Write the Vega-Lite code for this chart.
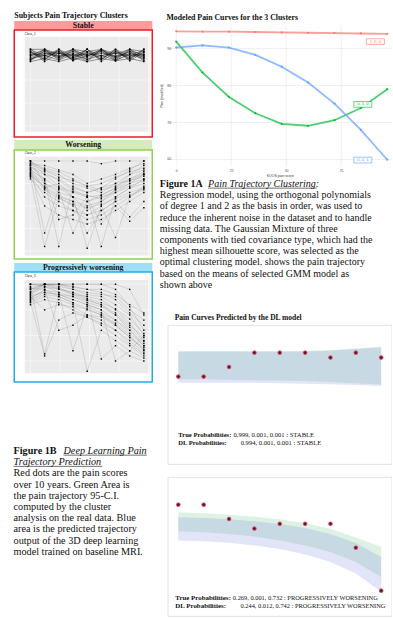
{
"$schema":"https://vega.github.io/schema/vega-lite/v6.json",
"background":"white",
"padding":{"left":13.25,"top":0,"right":0,"bottom":0},
"config":{"view":{"stroke":null},"font":"Liberation Serif","text":{"font":"Liberation Serif","color":"#111"},"axis":{"labelFont":"Liberation Sans","titleFont":"Liberation Sans","titleFontWeight":"normal","labelColor":"#4d4d4d","titleColor":"#333","domain":false}},
"datasets":{
"one":[{"p":1}],
"g5":[{"g":0},{"g":25},{"g":50},{"g":75},{"g":100}],
"g4s":[{"g":0},{"g":30},{"g":60},{"g":90}],
"g4p":[{"g":25},{"g":50},{"g":75},{"g":100}],
"st":[
{"s":1,"m":0,"v":100},{"s":1,"m":12,"v":86},{"s":1,"m":24,"v":100},{"s":1,"m":36,"v":86},{"s":1,"m":48,"v":100},{"s":1,"m":60,"v":86},{"s":1,"m":72,"v":100},{"s":1,"m":84,"v":86},{"s":1,"m":96,"v":100},
{"s":2,"m":0,"v":86},{"s":2,"m":12,"v":100},{"s":2,"m":24,"v":86},{"s":2,"m":36,"v":100},{"s":2,"m":48,"v":86},{"s":2,"m":60,"v":100},{"s":2,"m":72,"v":86},{"s":2,"m":84,"v":100},{"s":2,"m":96,"v":86},
{"s":3,"m":0,"v":97},{"s":3,"m":12,"v":89},{"s":3,"m":24,"v":97},{"s":3,"m":36,"v":89},{"s":3,"m":48,"v":97},{"s":3,"m":60,"v":89},{"s":3,"m":72,"v":97},{"s":3,"m":84,"v":89},{"s":3,"m":96,"v":97},
{"s":4,"m":0,"v":89},{"s":4,"m":12,"v":97},{"s":4,"m":24,"v":89},{"s":4,"m":36,"v":97},{"s":4,"m":48,"v":89},{"s":4,"m":60,"v":97},{"s":4,"m":72,"v":89},{"s":4,"m":84,"v":97},{"s":4,"m":96,"v":89},
{"s":5,"m":0,"v":94},{"s":5,"m":12,"v":92},{"s":5,"m":24,"v":95},{"s":5,"m":36,"v":91},{"s":5,"m":48,"v":94},{"s":5,"m":60,"v":92},{"s":5,"m":72,"v":95},{"s":5,"m":84,"v":91},{"s":5,"m":96,"v":94},
{"s":6,"m":0,"v":92},{"s":6,"m":12,"v":95},{"s":6,"m":24,"v":91},{"s":6,"m":36,"v":94},{"s":6,"m":48,"v":92},{"s":6,"m":60,"v":95},{"s":6,"m":72,"v":91},{"s":6,"m":84,"v":94},{"s":6,"m":96,"v":92},
{"s":7,"m":0,"v":100},{"s":7,"m":12,"v":100},{"s":7,"m":24,"v":94},{"s":7,"m":36,"v":100},{"s":7,"m":48,"v":97},{"s":7,"m":60,"v":100},{"s":7,"m":72,"v":94},{"s":7,"m":84,"v":100},{"s":7,"m":96,"v":97},
{"s":8,"m":0,"v":84},{"s":8,"m":12,"v":88},{"s":8,"m":24,"v":84},{"s":8,"m":36,"v":89},{"s":8,"m":48,"v":84},{"s":8,"m":60,"v":88},{"s":8,"m":72,"v":85},{"s":8,"m":84,"v":88},{"s":8,"m":96,"v":84},
{"s":9,"m":0,"v":98},{"s":9,"m":12,"v":84},{"s":9,"m":24,"v":95},{"s":9,"m":36,"v":88},{"s":9,"m":48,"v":100},{"s":9,"m":60,"v":84},{"s":9,"m":72,"v":97},{"s":9,"m":84,"v":88},{"s":9,"m":96,"v":99},
{"s":10,"m":0,"v":85},{"s":10,"m":12,"v":98},{"s":10,"m":24,"v":88},{"s":10,"m":36,"v":95},{"s":10,"m":48,"v":84},{"s":10,"m":60,"v":100},{"s":10,"m":72,"v":88},{"s":10,"m":84,"v":97},{"s":10,"m":96,"v":85},
{"s":11,"m":0,"v":91},{"s":11,"m":12,"v":100},{"s":11,"m":24,"v":91},{"s":11,"m":36,"v":100},{"s":11,"m":48,"v":91},{"s":11,"m":60,"v":100},{"s":11,"m":72,"v":91},{"s":11,"m":84,"v":100},{"s":11,"m":96,"v":91},
{"s":12,"m":0,"v":100},{"s":12,"m":12,"v":91},{"s":12,"m":24,"v":100},{"s":12,"m":36,"v":91},{"s":12,"m":48,"v":100},{"s":12,"m":60,"v":91},{"s":12,"m":72,"v":100},{"s":12,"m":84,"v":91},{"s":12,"m":96,"v":100},
{"s":13,"m":0,"v":88},{"s":13,"m":12,"v":92},{"s":13,"m":24,"v":86},{"s":13,"m":36,"v":93},{"s":13,"m":48,"v":87},{"s":13,"m":60,"v":92},{"s":13,"m":72,"v":86},{"s":13,"m":84,"v":93},{"s":13,"m":96,"v":88},
{"s":14,"m":0,"v":96},{"s":14,"m":12,"v":87},{"s":14,"m":24,"v":99},{"s":14,"m":36,"v":85},{"s":14,"m":48,"v":96},{"s":14,"m":60,"v":87},{"s":14,"m":72,"v":99},{"s":14,"m":84,"v":85},{"s":14,"m":96,"v":96},
{"s":15,"m":0,"v":93},{"s":15,"m":12,"v":99},{"s":15,"m":24,"v":90},{"s":15,"m":36,"v":98},{"s":15,"m":48,"v":93},{"s":15,"m":60,"v":99},{"s":15,"m":72,"v":90},{"s":15,"m":84,"v":98},{"s":15,"m":96,"v":93},
{"s":16,"m":0,"v":87},{"s":16,"m":12,"v":94},{"s":16,"m":24,"v":97},{"s":16,"m":36,"v":86},{"s":16,"m":48,"v":91},{"s":16,"m":60,"v":98},{"s":16,"m":72,"v":85},{"s":16,"m":84,"v":95},{"s":16,"m":96,"v":90}
],
"wo":[
{"s":1,"m":0,"v":100},{"s":1,"m":12,"v":100},{"s":1,"m":24,"v":100},{"s":1,"m":36,"v":100},{"s":1,"m":48,"v":100},{"s":1,"m":60,"v":97},{"s":1,"m":72,"v":100},{"s":1,"m":84,"v":100},{"s":1,"m":96,"v":100},
{"s":2,"m":0,"v":95},{"s":2,"m":12,"v":80},{"s":2,"m":24,"v":70},{"s":2,"m":36,"v":65},{"s":2,"m":48,"v":60},{"s":2,"m":60,"v":62},{"s":2,"m":72,"v":70},{"s":2,"m":84,"v":80},{"s":2,"m":96,"v":88},
{"s":3,"m":0,"v":90},{"s":3,"m":12,"v":70},{"s":3,"m":24,"v":60},{"s":3,"m":36,"v":55},{"s":3,"m":48,"v":50},{"s":3,"m":60,"v":55},{"s":3,"m":72,"v":65},{"s":3,"m":84,"v":75},{"s":3,"m":96,"v":85},
{"s":4,"m":0,"v":85},{"s":4,"m":12,"v":60},{"s":4,"m":24,"v":50},{"s":4,"m":36,"v":45},{"s":4,"m":48,"v":40},{"s":4,"m":60,"v":50},{"s":4,"m":72,"v":60},{"s":4,"m":84,"v":70},{"s":4,"m":96,"v":80},
{"s":5,"m":0,"v":100},{"s":5,"m":12,"v":90},{"s":5,"m":24,"v":85},{"s":5,"m":36,"v":75},{"s":5,"m":48,"v":70},{"s":5,"m":60,"v":65},{"s":5,"m":72,"v":75},{"s":5,"m":84,"v":85},{"s":5,"m":96,"v":95},
{"s":6,"m":0,"v":88},{"s":6,"m":12,"v":75},{"s":6,"m":24,"v":65},{"s":6,"m":36,"v":60},{"s":6,"m":48,"v":55},{"s":6,"m":60,"v":60},{"s":6,"m":72,"v":65},{"s":6,"m":84,"v":72},{"s":6,"m":96,"v":78},
{"s":7,"m":0,"v":92},{"s":7,"m":12,"v":85},{"s":7,"m":24,"v":80},{"s":7,"m":36,"v":70},{"s":7,"m":48,"v":65},{"s":7,"m":60,"v":70},{"s":7,"m":72,"v":80},{"s":7,"m":84,"v":90},{"s":7,"m":96,"v":100},
{"s":8,"m":0,"v":83},{"s":8,"m":12,"v":50},{"s":8,"m":24,"v":40},{"s":8,"m":36,"v":35},{"s":8,"m":48,"v":30},{"s":8,"m":60,"v":35},{"s":8,"m":72,"v":45},{"s":8,"m":84,"v":55},{"s":8,"m":96,"v":65},
{"s":9,"m":0,"v":97},{"s":9,"m":12,"v":95},{"s":9,"m":24,"v":90},{"s":9,"m":36,"v":85},{"s":9,"m":48,"v":75},{"s":9,"m":60,"v":80},{"s":9,"m":72,"v":85},{"s":9,"m":84,"v":92},{"s":9,"m":96,"v":97},
{"s":10,"m":0,"v":80},{"s":10,"m":12,"v":65},{"s":10,"m":24,"v":55},{"s":10,"m":36,"v":45},{"s":10,"m":48,"v":35},{"s":10,"m":60,"v":40},{"s":10,"m":72,"v":50},{"s":10,"m":84,"v":60},{"s":10,"m":96,"v":70},
{"s":11,"m":0,"v":95},{"s":11,"m":12,"v":20},{"s":11,"m":24,"v":70},{"s":11,"m":36,"v":60},{"s":11,"m":48,"v":45},{"s":11,"m":60,"v":55},{"s":11,"m":72,"v":68},{"s":11,"m":84,"v":75},{"s":11,"m":96,"v":80},
{"s":12,"m":0,"v":90},{"s":12,"m":12,"v":80},{"s":12,"m":24,"v":5},{"s":12,"m":36,"v":72},{"s":12,"m":48,"v":65},{"s":12,"m":60,"v":70},{"s":12,"m":72,"v":75},{"s":12,"m":84,"v":78},{"s":12,"m":96,"v":83},
{"s":13,"m":0,"v":100},{"s":13,"m":12,"v":75},{"s":13,"m":24,"v":68},{"s":13,"m":36,"v":20},{"s":13,"m":48,"v":55},{"s":13,"m":60,"v":62},{"s":13,"m":72,"v":70},{"s":13,"m":84,"v":85},{"s":13,"m":96,"v":90},
{"s":14,"m":0,"v":87},{"s":14,"m":12,"v":70},{"s":14,"m":24,"v":75},{"s":14,"m":36,"v":60},{"s":14,"m":48,"v":3},{"s":14,"m":60,"v":50},{"s":14,"m":72,"v":15},{"s":14,"m":84,"v":60},{"s":14,"m":96,"v":72},
{"s":15,"m":0,"v":93},{"s":15,"m":12,"v":88},{"s":15,"m":24,"v":78},{"s":15,"m":36,"v":68},{"s":15,"m":48,"v":60},{"s":15,"m":60,"v":5},{"s":15,"m":72,"v":60},{"s":15,"m":84,"v":70},{"s":15,"m":96,"v":75},
{"s":16,"m":0,"v":82},{"s":16,"m":12,"v":5},{"s":16,"m":24,"v":60},{"s":16,"m":36,"v":50},{"s":16,"m":48,"v":40},{"s":16,"m":60,"v":45},{"s":16,"m":72,"v":55},{"s":16,"m":84,"v":38},{"s":16,"m":96,"v":55},
{"s":17,"m":0,"v":98},{"s":17,"m":12,"v":92},{"s":17,"m":24,"v":88},{"s":17,"m":36,"v":80},{"s":17,"m":48,"v":72},{"s":17,"m":60,"v":75},{"s":17,"m":72,"v":82},{"s":17,"m":84,"v":88},{"s":17,"m":96,"v":92},
{"s":18,"m":0,"v":86},{"s":18,"m":12,"v":68},{"s":18,"m":24,"v":58},{"s":18,"m":36,"v":52},{"s":18,"m":48,"v":48},{"s":18,"m":60,"v":52},{"s":18,"m":72,"v":58},{"s":18,"m":84,"v":65},{"s":18,"m":96,"v":70},
{"s":19,"m":0,"v":100},{"s":19,"m":12,"v":85},{"s":19,"m":24,"v":72},{"s":19,"m":36,"v":66},{"s":19,"m":48,"v":62},{"s":19,"m":60,"v":58},{"s":19,"m":72,"v":68},{"s":19,"m":84,"v":78},{"s":19,"m":96,"v":85},
{"s":20,"m":0,"v":84},{"s":20,"m":12,"v":72},{"s":20,"m":24,"v":62},{"s":20,"m":36,"v":55},{"s":20,"m":48,"v":20},{"s":20,"m":60,"v":45},{"s":20,"m":72,"v":55},{"s":20,"m":84,"v":62},{"s":20,"m":96,"v":68},
{"s":21,"m":0,"v":96},{"s":21,"m":12,"v":90},{"s":21,"m":24,"v":82},{"s":21,"m":36,"v":78},{"s":21,"m":48,"v":72},{"s":21,"m":60,"v":68},{"s":21,"m":72,"v":72},{"s":21,"m":84,"v":80},{"s":21,"m":96,"v":86},
{"s":22,"m":0,"v":91},{"s":22,"m":12,"v":78},{"s":22,"m":24,"v":35},{"s":22,"m":36,"v":40},{"s":22,"m":48,"v":60},{"s":22,"m":60,"v":30},{"s":22,"m":72,"v":50},{"s":22,"m":84,"v":33},{"s":22,"m":96,"v":48}
],
"pw":[
{"s":1,"m":0,"v":100},{"s":1,"m":12,"v":100},{"s":1,"m":24,"v":100},{"s":1,"m":36,"v":100},{"s":1,"m":48,"v":100},{"s":1,"m":60,"v":100},{"s":1,"m":72,"v":95},{"s":1,"m":84,"v":78},{"s":1,"m":96,"v":55},
{"s":2,"m":0,"v":95},{"s":2,"m":12,"v":100},{"s":2,"m":24,"v":98},{"s":2,"m":36,"v":95},{"s":2,"m":48,"v":90},{"s":2,"m":60,"v":88},{"s":2,"m":72,"v":80},{"s":2,"m":84,"v":70},{"s":2,"m":96,"v":50},
{"s":3,"m":0,"v":90},{"s":3,"m":12,"v":97},{"s":3,"m":24,"v":95},{"s":3,"m":36,"v":92},{"s":3,"m":48,"v":88},{"s":3,"m":60,"v":85},{"s":3,"m":72,"v":75},{"s":3,"m":84,"v":62},{"s":3,"m":96,"v":45},
{"s":4,"m":0,"v":85},{"s":4,"m":12,"v":92},{"s":4,"m":24,"v":90},{"s":4,"m":36,"v":88},{"s":4,"m":48,"v":82},{"s":4,"m":60,"v":78},{"s":4,"m":72,"v":70},{"s":4,"m":84,"v":55},{"s":4,"m":96,"v":40},
{"s":5,"m":0,"v":100},{"s":5,"m":12,"v":100},{"s":5,"m":24,"v":97},{"s":5,"m":36,"v":90},{"s":5,"m":48,"v":85},{"s":5,"m":60,"v":80},{"s":5,"m":72,"v":72},{"s":5,"m":84,"v":60},{"s":5,"m":96,"v":48},
{"s":6,"m":0,"v":82},{"s":6,"m":12,"v":88},{"s":6,"m":24,"v":85},{"s":6,"m":36,"v":80},{"s":6,"m":48,"v":75},{"s":6,"m":60,"v":70},{"s":6,"m":72,"v":62},{"s":6,"m":84,"v":50},{"s":6,"m":96,"v":35},
{"s":7,"m":0,"v":97},{"s":7,"m":12,"v":100},{"s":7,"m":24,"v":100},{"s":7,"m":36,"v":97},{"s":7,"m":48,"v":95},{"s":7,"m":60,"v":92},{"s":7,"m":72,"v":85},{"s":7,"m":84,"v":72},{"s":7,"m":96,"v":60},
{"s":8,"m":0,"v":88},{"s":8,"m":12,"v":75},{"s":8,"m":24,"v":80},{"s":8,"m":36,"v":78},{"s":8,"m":48,"v":70},{"s":8,"m":60,"v":65},{"s":8,"m":72,"v":55},{"s":8,"m":84,"v":45},{"s":8,"m":96,"v":33},
{"s":9,"m":0,"v":93},{"s":9,"m":12,"v":100},{"s":9,"m":24,"v":100},{"s":9,"m":36,"v":95},{"s":9,"m":48,"v":92},{"s":9,"m":60,"v":90},{"s":9,"m":72,"v":88},{"s":9,"m":84,"v":75},{"s":9,"m":96,"v":65},
{"s":10,"m":0,"v":80},{"s":10,"m":12,"v":85},{"s":10,"m":24,"v":82},{"s":10,"m":36,"v":75},{"s":10,"m":48,"v":68},{"s":10,"m":60,"v":60},{"s":10,"m":72,"v":50},{"s":10,"m":84,"v":40},{"s":10,"m":96,"v":30},
{"s":11,"m":0,"v":98},{"s":11,"m":12,"v":32},{"s":11,"m":24,"v":90},{"s":11,"m":36,"v":85},{"s":11,"m":48,"v":80},{"s":11,"m":60,"v":75},{"s":11,"m":72,"v":65},{"s":11,"m":84,"v":55},{"s":11,"m":96,"v":42},
{"s":12,"m":0,"v":86},{"s":12,"m":12,"v":95},{"s":12,"m":24,"v":55},{"s":12,"m":36,"v":60},{"s":12,"m":48,"v":70},{"s":12,"m":60,"v":68},{"s":12,"m":72,"v":60},{"s":12,"m":84,"v":48},{"s":12,"m":96,"v":38},
{"s":13,"m":0,"v":91},{"s":13,"m":12,"v":100},{"s":13,"m":24,"v":100},{"s":13,"m":36,"v":100},{"s":13,"m":48,"v":100},{"s":13,"m":60,"v":100},{"s":13,"m":72,"v":100},{"s":13,"m":84,"v":95},{"s":13,"m":96,"v":70},
{"s":14,"m":0,"v":100},{"s":14,"m":12,"v":98},{"s":14,"m":24,"v":92},{"s":14,"m":36,"v":35},{"s":14,"m":48,"v":78},{"s":14,"m":60,"v":72},{"s":14,"m":72,"v":65},{"s":14,"m":84,"v":52},{"s":14,"m":96,"v":40},
{"s":15,"m":0,"v":84},{"s":15,"m":12,"v":90},{"s":15,"m":24,"v":88},{"s":15,"m":36,"v":82},{"s":15,"m":48,"v":15},{"s":15,"m":60,"v":55},{"s":15,"m":72,"v":45},{"s":15,"m":84,"v":35},{"s":15,"m":96,"v":28},
{"s":16,"m":0,"v":95},{"s":16,"m":12,"v":100},{"s":16,"m":24,"v":95},{"s":16,"m":36,"v":90},{"s":16,"m":48,"v":88},{"s":16,"m":60,"v":27},{"s":16,"m":72,"v":40},{"s":16,"m":84,"v":30},{"s":16,"m":96,"v":25},
{"s":17,"m":0,"v":89},{"s":17,"m":12,"v":92},{"s":17,"m":24,"v":90},{"s":17,"m":36,"v":85},{"s":17,"m":48,"v":80},{"s":17,"m":60,"v":75},{"s":17,"m":72,"v":25},{"s":17,"m":84,"v":35},{"s":17,"m":96,"v":50},
{"s":18,"m":0,"v":100},{"s":18,"m":12,"v":100},{"s":18,"m":24,"v":100},{"s":18,"m":36,"v":98},{"s":18,"m":48,"v":95},{"s":18,"m":60,"v":95},{"s":18,"m":72,"v":90},{"s":18,"m":84,"v":80},{"s":18,"m":96,"v":72},
{"s":19,"m":0,"v":83},{"s":19,"m":12,"v":30},{"s":19,"m":24,"v":65},{"s":19,"m":36,"v":72},{"s":19,"m":48,"v":68},{"s":19,"m":60,"v":62},{"s":19,"m":72,"v":55},{"s":19,"m":84,"v":42},{"s":19,"m":96,"v":32},
{"s":20,"m":0,"v":96},{"s":20,"m":12,"v":95},{"s":20,"m":24,"v":88},{"s":20,"m":36,"v":82},{"s":20,"m":48,"v":76},{"s":20,"m":60,"v":70},{"s":20,"m":72,"v":60},{"s":20,"m":84,"v":48},{"s":20,"m":96,"v":36},
{"s":21,"m":0,"v":87},{"s":21,"m":12,"v":94},{"s":21,"m":24,"v":92},{"s":21,"m":36,"v":88},{"s":21,"m":48,"v":84},{"s":21,"m":60,"v":80},{"s":21,"m":72,"v":70},{"s":21,"m":84,"v":58},{"s":21,"m":96,"v":44},
{"s":22,"m":0,"v":92},{"s":22,"m":12,"v":98},{"s":22,"m":24,"v":96},{"s":22,"m":36,"v":92},{"s":22,"m":48,"v":86},{"s":22,"m":60,"v":82},{"s":22,"m":72,"v":76},{"s":22,"m":84,"v":66},{"s":22,"m":96,"v":52}
],
"mod":[
{"c":"1","m":0,"v":94.6},{"c":"1","m":12,"v":94.5},{"c":"1","m":24,"v":94.5},{"c":"1","m":36,"v":94.4},{"c":"1","m":48,"v":94.3},{"c":"1","m":60,"v":94.2},{"c":"1","m":72,"v":94.1},{"c":"1","m":84,"v":94.0},{"c":"1","m":96,"v":93.9},
{"c":"2","m":0,"v":91.8},{"c":"2","m":12,"v":83.4},{"c":"2","m":24,"v":76.8},{"c":"2","m":36,"v":72.4},{"c":"2","m":48,"v":69.5},{"c":"2","m":60,"v":69.0},{"c":"2","m":72,"v":70.5},{"c":"2","m":84,"v":73.8},{"c":"2","m":96,"v":78.9},
{"c":"3","m":0,"v":90.2},{"c":"3","m":12,"v":90.8},{"c":"3","m":24,"v":90.2},{"c":"3","m":36,"v":88.2},{"c":"3","m":48,"v":85.0},{"c":"3","m":60,"v":80.7},{"c":"3","m":72,"v":75.0},{"c":"3","m":84,"v":67.9},{"c":"3","m":96,"v":59.8}
],
"lab":[
{"c":"1","m":90.6,"v":91.8,"t":"1, 0, 0"},
{"c":"2","m":84.9,"v":74.8,"t":"0, 1, 0"},
{"c":"3","m":84.9,"v":59.7,"t":"0, 0, 1"}
],
"dl1":[
{"m":0,"v":86.1,"gl":84.5,"gh":101,"bl":82.5,"bh":100.5},
{"m":12,"v":86.1,"gl":84.5,"gh":101,"bl":82.5,"bh":100.5},
{"m":24,"v":91.7,"gl":84.3,"gh":101,"bl":82.5,"bh":100.5},
{"m":36,"v":100,"gl":84,"gh":101,"bl":82.5,"bh":100.5},
{"m":48,"v":100,"gl":83.8,"gh":101,"bl":82.3,"bh":100.5},
{"m":60,"v":100,"gl":83.5,"gh":101,"bl":82,"bh":100.7},
{"m":72,"v":97.2,"gl":83,"gh":101.5,"bl":81.7,"bh":101.2},
{"m":84,"v":100,"gl":82.2,"gh":102.5,"bl":81.2,"bh":102.2},
{"m":96,"v":97.2,"gl":81.5,"gh":103.5,"bl":80.6,"bh":103.2}
],
"dl2":[
{"m":0,"v":100,"gl":84.6,"gh":95.6,"bl":79.2,"bh":92.7},
{"m":12,"v":100,"gl":84,"gh":95,"bl":78.8,"bh":92.3},
{"m":24,"v":91.7,"gl":83,"gh":94.2,"bl":77.9,"bh":91.5},
{"m":36,"v":86.1,"gl":81.5,"gh":93,"bl":76.3,"bh":90.4},
{"m":48,"v":88.9,"gl":79.2,"gh":91.5,"bl":74.2,"bh":88.8},
{"m":60,"v":88.9,"gl":76.3,"gh":89.2,"bl":71.1,"bh":86.5},
{"m":72,"v":88.9,"gl":72.5,"gh":86,"bl":66.7,"bh":83},
{"m":84,"v":75,"gl":66.7,"gh":81,"bl":60,"bh":77.7},
{"m":96,"v":50,"gl":58,"gh":75.4,"bl":49.4,"bh":69.6}
]
},
"spacing":6.5,
"hconcat":[
{"spacing":0,"bounds":"flush","vconcat":[
 {"width":138,"height":21,"data":{"values":[{"t":"Subjects Pain Trajectory Clusters"}]},"mark":{"type":"text","align":"left","baseline":"middle","fontWeight":"bold","fontSize":7.9},"encoding":{"x":{"datum":0,"type":"quantitative","scale":{"domain":[0,1],"nice":false,"zero":false},"axis":null},"y":{"datum":0.25,"type":"quantitative","scale":{"domain":[0,1],"nice":false,"zero":false},"axis":null},"text":{"field":"t"}}},
 {"width":138,"height":9,"view":{"fill":"#ff9b9b","stroke":null},"data":{"values":[{"t":"Stable"}]},"mark":{"type":"text","fontWeight":"bold","fontSize":7.8,"baseline":"middle"},"encoding":{"text":{"field":"t"}}},
 {"width":138,"height":107,"view":{"stroke":"#ee1c25","strokeWidth":1.5,"fill":"white"},"data":{"name":"st"},
  "layer":[
   {"data":{"name":"one"},"mark":{"type":"rect","fill":"#ebebeb"},"encoding":{"x":{"datum":-4.8,"type":"quantitative","axis":null},"x2":{"datum":100.8},"y":{"datum":-7.4,"type":"quantitative","axis":null},"y2":{"datum":116.5}}},
   {"data":{"name":"g5"},"mark":{"type":"rule","stroke":"white","strokeWidth":0.5},"encoding":{"x":{"field":"g","type":"quantitative","axis":null},"y":{"datum":-7.4,"type":"quantitative","axis":null},"y2":{"datum":116.5}}},
   {"data":{"name":"g4s"},"mark":{"type":"rule","stroke":"white","strokeWidth":0.5},"encoding":{"y":{"field":"g","type":"quantitative","axis":null},"x":{"datum":-4.8,"type":"quantitative","axis":null},"x2":{"datum":100.8}}},
   {"mark":{"type":"line","stroke":"#111","strokeWidth":0.5,"opacity":0.85},"encoding":{
     "x":{"field":"m","type":"quantitative","scale":{"domain":[-13.7,103.1],"nice":false,"zero":false},"axis":{"values":[0,25,50,75,100],"offset":-5.3,"labelFontSize":3,"labelPadding":0.5,"tickSize":1.2,"tickWidth":0.3,"tickColor":"#333","title":"months","titleFontSize":3,"titlePadding":0,"grid":false}},
     "y":{"field":"v","type":"quantitative","scale":{"domain":[-14.3,125.2],"nice":false,"zero":false},"axis":{"values":[0,30,60,90],"offset":-10.5,"labelFontSize":3,"labelPadding":0.5,"tickSize":1.2,"tickWidth":0.3,"tickColor":"#333","title":"score","titleFontSize":3,"titlePadding":0.5,"grid":false}},
     "detail":{"field":"s","type":"nominal"}}},
   {"mark":{"type":"point","shape":"square","filled":true,"color":"black","size":2,"opacity":1},"encoding":{"x":{"field":"m","type":"quantitative","axis":null},"y":{"field":"v","type":"quantitative","axis":null}}},
   {"data":{"name":"one"},"mark":{"type":"text","fontSize":3,"align":"left","baseline":"middle","font":"Liberation Sans"},"encoding":{"x":{"datum":-4.8,"type":"quantitative","axis":null},"y":{"datum":120.9,"type":"quantitative","axis":null},"text":{"value":"Class_1"}}}
  ]},
 {"width":138,"height":3,"data":{"name":"one"},"mark":{"type":"text","text":""}},
 {"width":138,"height":10,"view":{"fill":"#d5ebbd","stroke":null},"data":{"values":[{"t":"Worsening"}]},"mark":{"type":"text","fontWeight":"bold","fontSize":7.8,"baseline":"middle"},"encoding":{"text":{"field":"t"}}},
 {"width":138,"height":109,"view":{"stroke":"#8fd14f","strokeWidth":1.5,"fill":"white"},"data":{"name":"wo"},
  "layer":[
   {"data":{"name":"one"},"mark":{"type":"rect","fill":"#ebebeb"},"encoding":{"x":{"datum":-4.8,"type":"quantitative","axis":null},"x2":{"datum":100.8},"y":{"datum":-5,"type":"quantitative","axis":null},"y2":{"datum":105}}},
   {"data":{"name":"g5"},"mark":{"type":"rule","stroke":"white","strokeWidth":0.5},"encoding":{"x":{"field":"g","type":"quantitative","axis":null},"y":{"datum":-5,"type":"quantitative","axis":null},"y2":{"datum":105}}},
   {"data":{"name":"g5"},"mark":{"type":"rule","stroke":"white","strokeWidth":0.5},"encoding":{"y":{"field":"g","type":"quantitative","axis":null},"x":{"datum":-4.8,"type":"quantitative","axis":null},"x2":{"datum":100.8}}},
   {"mark":{"type":"line","stroke":"#444","strokeWidth":0.4,"opacity":0.4},"encoding":{
     "x":{"field":"m","type":"quantitative","scale":{"domain":[-13.7,103.1],"nice":false,"zero":false},"axis":{"values":[0,25,50,75,100],"offset":-3.5,"labelFontSize":3,"labelPadding":0.5,"tickSize":1.2,"tickWidth":0.3,"tickColor":"#333","title":"months","titleFontSize":3,"titlePadding":0,"grid":false}},
     "y":{"field":"v","type":"quantitative","scale":{"domain":[-8.9,112.2],"nice":false,"zero":false},"axis":{"values":[0,25,50,75,100],"offset":-10.5,"labelFontSize":3,"labelPadding":0.5,"tickSize":1.2,"tickWidth":0.3,"tickColor":"#333","title":"score","titleFontSize":3,"titlePadding":0.5,"grid":false}},
     "detail":{"field":"s","type":"nominal"}}},
   {"mark":{"type":"point","shape":"square","filled":true,"color":"black","size":2,"opacity":1},"encoding":{"x":{"field":"m","type":"quantitative","axis":null},"y":{"field":"v","type":"quantitative","axis":null}}},
   {"data":{"name":"one"},"mark":{"type":"text","fontSize":3,"align":"left","baseline":"middle","font":"Liberation Sans"},"encoding":{"x":{"datum":-4.8,"type":"quantitative","axis":null},"y":{"datum":108.9,"type":"quantitative","axis":null},"text":{"value":"Class_2"}}}
  ]},
 {"width":138,"height":4,"data":{"name":"one"},"mark":{"type":"text","text":""}},
 {"width":138,"height":9,"view":{"fill":"#9ddff6","stroke":null},"data":{"values":[{"t":"Progressively worsening"}]},"mark":{"type":"text","fontWeight":"bold","fontSize":7.8,"baseline":"middle"},"encoding":{"text":{"field":"t"}}},
 {"width":138,"height":110,"view":{"stroke":"#20aee8","strokeWidth":1.5,"fill":"white"},"data":{"name":"pw"},
  "layer":[
   {"data":{"name":"one"},"mark":{"type":"rect","fill":"#ebebeb"},"encoding":{"x":{"datum":-4.8,"type":"quantitative","axis":null},"x2":{"datum":100.8},"y":{"datum":13,"type":"quantitative","axis":null},"y2":{"datum":104.2}}},
   {"data":{"name":"g5"},"mark":{"type":"rule","stroke":"white","strokeWidth":0.5},"encoding":{"x":{"field":"g","type":"quantitative","axis":null},"y":{"datum":13,"type":"quantitative","axis":null},"y2":{"datum":104.2}}},
   {"data":{"name":"g4p"},"mark":{"type":"rule","stroke":"white","strokeWidth":0.5},"encoding":{"y":{"field":"g","type":"quantitative","axis":null},"x":{"datum":-4.8,"type":"quantitative","axis":null},"x2":{"datum":100.8}}},
   {"mark":{"type":"line","stroke":"#444","strokeWidth":0.4,"opacity":0.4},"encoding":{
     "x":{"field":"m","type":"quantitative","scale":{"domain":[-13.7,103.1],"nice":false,"zero":false},"axis":{"values":[0,25,50,75,100],"offset":-8.7,"labelFontSize":3,"labelPadding":0.5,"tickSize":1.2,"tickWidth":0.3,"tickColor":"#333","title":"months","titleFontSize":3,"titlePadding":0,"grid":false}},
     "y":{"field":"v","type":"quantitative","scale":{"domain":[4.5,112.0],"nice":false,"zero":false},"axis":{"values":[25,50,75,100],"offset":-10.5,"labelFontSize":3,"labelPadding":0.5,"tickSize":1.2,"tickWidth":0.3,"tickColor":"#333","title":"score","titleFontSize":3,"titlePadding":0.5,"grid":false}},
     "detail":{"field":"s","type":"nominal"}}},
   {"mark":{"type":"point","shape":"square","filled":true,"color":"black","size":2,"opacity":1},"encoding":{"x":{"field":"m","type":"quantitative","axis":null},"y":{"field":"v","type":"quantitative","axis":null}}},
   {"data":{"name":"one"},"mark":{"type":"text","fontSize":3,"align":"left","baseline":"middle","font":"Liberation Sans"},"encoding":{"x":{"datum":-4.8,"type":"quantitative","axis":null},"y":{"datum":108.1,"type":"quantitative","axis":null},"text":{"value":"Class_3"}}}
  ]},
 {"width":138,"height":68.7,"data":{"name":"one"},"mark":{"type":"text","text":""}},
 {"width":138,"height":100.8,
  "layer":[
   {"data":{"values":[{"l":0,"t":"Figure 1B"}]},"mark":{"type":"text","align":"left","baseline":"middle","fontWeight":"bold","fontSize":10.2},"encoding":{"x":{"datum":-0.005,"type":"quantitative","scale":{"domain":[0,1],"nice":false,"zero":false},"axis":null},"y":{"field":"l","type":"quantitative","scale":{"domain":[0,9],"reverse":true,"nice":false,"zero":false},"axis":null},"text":{"field":"t"}}},
   {"data":{"values":[{"l":0,"t":"Deep Learning Pain"}]},"mark":{"type":"text","align":"left","baseline":"middle","fontStyle":"italic","fontSize":10.2},"encoding":{"x":{"datum":0.357,"type":"quantitative","axis":null},"y":{"field":"l","type":"quantitative","axis":null},"text":{"field":"t"}}},
   {"data":{"values":[{"l":1,"t":"Trajectory Prediction"}]},"mark":{"type":"text","align":"left","baseline":"middle","fontStyle":"italic","fontSize":10.2},"encoding":{"x":{"datum":-0.005,"type":"quantitative","axis":null},"y":{"field":"l","type":"quantitative","axis":null},"text":{"field":"t"}}},
   {"data":{"values":[{"l":2,"t":"Red dots are the pain scores"},{"l":3,"t":"over 10 years. Green Area is"},{"l":4,"t":"the pain trajectory 95-C.I."},{"l":5,"t":"computed by the cluster"},{"l":6,"t":"analysis on the real data. Blue"},{"l":7,"t":"area is the predicted trajectory"},{"l":8,"t":"output of the 3D deep learning"},{"l":9,"t":"model trained on baseline MRI."}]},"mark":{"type":"text","align":"left","baseline":"middle","fontSize":10.2},"encoding":{"x":{"datum":-0.005,"type":"quantitative","axis":null},"y":{"field":"l","type":"quantitative","axis":null},"text":{"field":"t"}}},
   {"data":{"values":[{"l":0.37}]},"mark":{"type":"rule","strokeWidth":0.6,"color":"#111"},"encoding":{"x":{"datum":0.357,"type":"quantitative","axis":null},"x2":{"datum":0.96},"y":{"field":"l","type":"quantitative","axis":null}}},
   {"data":{"values":[{"l":1.37}]},"mark":{"type":"rule","strokeWidth":0.6,"color":"#111"},"encoding":{"x":{"datum":-0.005,"type":"quantitative","axis":null},"x2":{"datum":0.638},"y":{"field":"l","type":"quantitative","axis":null}}}
  ]}
]},
{"spacing":0,"bounds":"flush","vconcat":[
 {"width":224,"height":25,"data":{"values":[{"t":"Modeled Pain Curves for the 3 Clusters"}]},"mark":{"type":"text","align":"left","baseline":"middle","fontWeight":"bold","fontSize":7.8},"encoding":{"x":{"datum":-0.006,"type":"quantitative","scale":{"domain":[0,1],"nice":false,"zero":false},"axis":null},"y":{"datum":0.268,"type":"quantitative","scale":{"domain":[0,1],"nice":false,"zero":false},"axis":null},"text":{"field":"t"}}},
 {"width":224,"height":141,"data":{"name":"mod"},
  "encoding":{
   "x":{"field":"m","type":"quantitative","scale":{"domain":[-3.85,98.05],"nice":false,"zero":false},"axis":{"values":[0,25,50,75],"grid":true,"gridColor":"#e5e5e5","gridWidth":0.6,"ticks":false,"labelFontSize":3.5,"labelPadding":2,"title":"KOOS pain score","titleFontSize":3.5,"titlePadding":1.5}},
   "y":{"field":"v","type":"quantitative","scale":{"domain":[58.1,96.3],"nice":false,"zero":false},"axis":{"values":[60,70,80,90],"grid":true,"gridColor":"#e5e5e5","gridWidth":0.6,"ticks":false,"labelFontSize":3.5,"labelPadding":-3,"title":"Pain (modified)","titleFontSize":3.5,"titlePadding":3}},
   "color":{"field":"c","type":"nominal","scale":{"domain":["1","2","3"],"range":["#F8766D","#00BA38","#619CFF"]},"legend":null}},
  "layer":[
   {"mark":{"type":"line","strokeWidth":1.8,"opacity":0.7}},
   {"mark":{"type":"point","filled":true,"size":5,"opacity":0.9}},
   {"data":{"name":"lab"},"mark":{"type":"point","shape":"M-1,-0.32L1,-0.32L1,0.32L-1,0.32Z","size":324,"filled":true,"strokeWidth":0.6,"opacity":1},"encoding":{"color":{"value":"white"},"stroke":{"field":"c","type":"nominal","scale":{"domain":["1","2","3"],"range":["#F8766D","#00BA38","#619CFF"]},"legend":null}}},
   {"data":{"name":"lab"},"mark":{"type":"text","fontSize":4,"font":"Liberation Sans","baseline":"middle"},"encoding":{"text":{"field":"t"}}}
  ]},
 {"width":224,"height":17.3,"data":{"name":"one"},"mark":{"type":"text","text":""}},
 {"width":224,"height":100.8,
  "layer":[
   {"data":{"values":[{"l":0,"t":"Figure 1A"}]},"mark":{"type":"text","align":"left","baseline":"middle","fontWeight":"bold","fontSize":10},"encoding":{"x":{"datum":-0.0356,"type":"quantitative","scale":{"domain":[0,1],"nice":false,"zero":false},"axis":null},"y":{"field":"l","type":"quantitative","scale":{"domain":[0,9],"reverse":true,"nice":false,"zero":false},"axis":null},"text":{"field":"t"}}},
   {"data":{"values":[{"l":0,"t":"Pain Trajectory Clustering:"}]},"mark":{"type":"text","align":"left","baseline":"middle","fontStyle":"italic","fontSize":10},"encoding":{"x":{"datum":0.18,"type":"quantitative","axis":null},"y":{"field":"l","type":"quantitative","axis":null},"text":{"field":"t"}}},
   {"data":{"values":[{"l":1,"t":"Regression model, using the orthogonal polynomials"},{"l":2,"t":"of degree 1 and 2 as the basis in order, was used to"},{"l":3,"t":"reduce the inherent noise in the dataset and to handle"},{"l":4,"t":"missing data. The Gaussian Mixture of three"},{"l":5,"t":"components with tied covariance type, which had the"},{"l":6,"t":"highest mean silhouette score, was selected as the"},{"l":7,"t":"optimal clustering model. shows the pain trajectory"},{"l":8,"t":"based on the means of selected GMM model as"},{"l":9,"t":"shown above"}]},"mark":{"type":"text","align":"left","baseline":"middle","fontSize":10},"encoding":{"x":{"datum":-0.0356,"type":"quantitative","axis":null},"y":{"field":"l","type":"quantitative","axis":null},"text":{"field":"t"}}},
   {"data":{"values":[{"l":0.37}]},"mark":{"type":"rule","strokeWidth":0.6,"color":"#111"},"encoding":{"x":{"datum":0.18,"type":"quantitative","axis":null},"x2":{"datum":0.665},"y":{"field":"l","type":"quantitative","axis":null}}}
  ]},
 {"width":224,"height":39.9,"data":{"values":[{"t":"Pain Curves Predicted by the DL model"}]},"mark":{"type":"text","align":"left","baseline":"middle","fontWeight":"bold","fontSize":7.5},"encoding":{"x":{"datum":0.031,"type":"quantitative","scale":{"domain":[0,1],"nice":false,"zero":false},"axis":null},"y":{"datum":0.183,"type":"quantitative","scale":{"domain":[0,1],"nice":false,"zero":false},"axis":null},"text":{"field":"t"}}},
 {"width":224,"height":139,"view":{"stroke":"#d9d9d9","strokeWidth":0.8},"data":{"name":"dl1"},
  "layer":[
   {"mark":{"type":"area","color":"#66c28a","opacity":0.22},"encoding":{
     "x":{"field":"m","type":"quantitative","scale":{"domain":[-5,101],"nice":false,"zero":false},"axis":{"values":[0,25,50,75,100],"grid":true,"gridColor":"#ececec","gridWidth":0.6,"ticks":false,"labelFontSize":3.5,"labelPadding":2,"labelFlush":true,"title":"Follow-up time (months)","titleFontSize":3.5,"titlePadding":1.5}},
     "y":{"field":"gl","type":"quantitative","scale":{"domain":[35.3,116.1],"nice":false,"zero":false},"axis":{"values":[50,75,100],"grid":true,"gridColor":"#ececec","gridWidth":0.6,"ticks":false,"labelFontSize":3.5,"labelPadding":2,"title":"KOOS pain score","titleFontSize":3.5,"titlePadding":2}},"y2":{"field":"gh"}}},
   {"mark":{"type":"area","color":"#7b84e0","opacity":0.22},"encoding":{"x":{"field":"m","type":"quantitative","axis":null},"y":{"field":"bl","type":"quantitative","axis":null},"y2":{"field":"bh"}}},
   {"mark":{"type":"point","filled":true,"color":"#5e1528","stroke":"#e0506a","strokeWidth":0.9,"size":14,"opacity":1},"encoding":{"x":{"field":"m","type":"quantitative","axis":null},"y":{"field":"v","type":"quantitative","axis":null}}},
   {"data":{"name":"one"},"mark":{"type":"text","align":"left","baseline":"middle","fontWeight":"bold","fontSize":6.6},"encoding":{"x":{"datum":0,"type":"quantitative","axis":null},"y":{"datum":52.2,"type":"quantitative","axis":null},"text":{"value":"True Probabilities:"}}},
   {"data":{"name":"one"},"mark":{"type":"text","align":"left","baseline":"middle","fontWeight":"bold","fontSize":6.6},"encoding":{"x":{"datum":0,"type":"quantitative","axis":null},"y":{"datum":47.7,"type":"quantitative","axis":null},"text":{"value":"DL Probabilities:"}}},
   {"data":{"name":"one"},"mark":{"type":"text","align":"left","baseline":"middle","fontSize":6.6},"encoding":{"x":{"datum":26.1,"type":"quantitative","axis":null},"y":{"datum":52.2,"type":"quantitative","axis":null},"text":{"value":"0.999, 0.001, 0.001 : STABLE"}}},
   {"data":{"name":"one"},"mark":{"type":"text","align":"left","baseline":"middle","fontSize":6.6},"encoding":{"x":{"datum":29.5,"type":"quantitative","axis":null},"y":{"datum":47.7,"type":"quantitative","axis":null},"text":{"value":"0.994, 0.001, 0.001 : STABLE"}}}
  ]},
 {"width":224,"height":13,"data":{"name":"one"},"mark":{"type":"text","text":""}},
 {"width":224,"height":139,"view":{"stroke":"#d9d9d9","strokeWidth":0.8},"data":{"name":"dl2"},
  "layer":[
   {"mark":{"type":"area","color":"#66c28a","opacity":0.22},"encoding":{
     "x":{"field":"m","type":"quantitative","scale":{"domain":[-5,101],"nice":false,"zero":false},"axis":{"values":[0,25,50,75,100],"grid":true,"gridColor":"#ececec","gridWidth":0.6,"ticks":false,"labels":false,"title":null}},
     "y":{"field":"gl","type":"quantitative","scale":{"domain":[35.3,116.1],"nice":false,"zero":false},"axis":{"values":[50,75,100],"grid":true,"gridColor":"#ececec","gridWidth":0.6,"ticks":false,"labelFontSize":3.5,"labelPadding":2,"title":"KOOS pain score","titleFontSize":3.5,"titlePadding":2}},"y2":{"field":"gh"}}},
   {"mark":{"type":"area","color":"#7b84e0","opacity":0.22},"encoding":{"x":{"field":"m","type":"quantitative","axis":null},"y":{"field":"bl","type":"quantitative","axis":null},"y2":{"field":"bh"}}},
   {"mark":{"type":"point","filled":true,"color":"#5e1528","stroke":"#e0506a","strokeWidth":0.9,"size":14,"opacity":1},"encoding":{"x":{"field":"m","type":"quantitative","axis":null},"y":{"field":"v","type":"quantitative","axis":null}}},
   {"data":{"name":"one"},"mark":{"type":"text","align":"left","baseline":"middle","fontWeight":"bold","fontSize":6.9},"encoding":{"x":{"datum":-1.4,"type":"quantitative","axis":null},"y":{"datum":45.6,"type":"quantitative","axis":null},"text":{"value":"True Probabilities:"}}},
   {"data":{"name":"one"},"mark":{"type":"text","align":"left","baseline":"middle","fontWeight":"bold","fontSize":6.9},"encoding":{"x":{"datum":-1.4,"type":"quantitative","axis":null},"y":{"datum":40.9,"type":"quantitative","axis":null},"text":{"value":"DL Probabilities:"}}},
   {"data":{"name":"one"},"mark":{"type":"text","align":"left","baseline":"middle","fontSize":6.4},"encoding":{"x":{"datum":25.8,"type":"quantitative","axis":null},"y":{"datum":45.6,"type":"quantitative","axis":null},"text":{"value":"0.269, 0.001, 0.732 : PROGRESSIVELY WORSENING"}}},
   {"data":{"name":"one"},"mark":{"type":"text","align":"left","baseline":"middle","fontSize":6.4},"encoding":{"x":{"datum":29.4,"type":"quantitative","axis":null},"y":{"datum":40.9,"type":"quantitative","axis":null},"text":{"value":"0.244, 0.012, 0.742 : PROGRESSIVELY WORSENING"}}}
  ]}
]}
]
}
